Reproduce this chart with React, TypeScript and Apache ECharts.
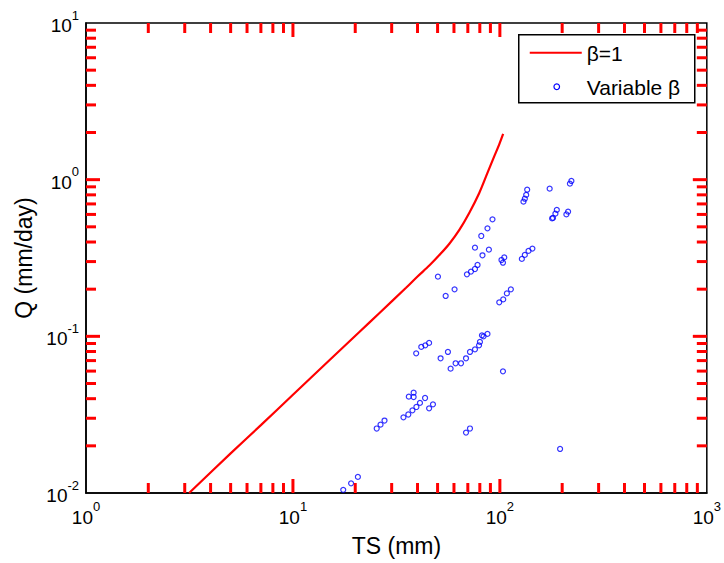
import React, { useEffect, useRef } from "react";
import * as echarts from "echarts";

// ---- data ----
const lineName = "β=1";
const scatterName = "Variable β";
const xTitle = "TS (mm)";
const yTitle = "Q (mm/day)";

const lineTS = [3.15, 5, 7, 10, 15, 21, 26.2, 35.2, 40, 45.6, 51, 57, 63.7, 71.1, 79.5, 87.1, 93.9, 99.2, 103.7];
const lineQ = [0.01, 0.0179, 0.0271, 0.0424, 0.0703, 0.107, 0.141, 0.204, 0.241, 0.283, 0.33, 0.39, 0.478, 0.613, 0.822, 1.104, 1.408, 1.673, 1.957];

const scatterTS = [
  135.5, 134, 132, 130, 174, 221.6, 218, 188.4, 185.5, 180.6, 178.8, 213.6, 209.6,
  92.1, 87.1, 81.3, 75.8, 88.5, 82.4, 105, 101.8, 103.5, 143.6, 137.5, 132, 127.7,
  78, 75.8, 72.5, 69.3, 50.2, 60.4, 54.7, 113, 108.1, 103.8, 99.3,
  39.4, 41.7, 43.6, 45.5, 51.7, 56.1, 57.8, 61.1, 64.9, 68.6, 71.7, 75.8, 79.3, 80.1,
  81.9, 83.4, 87.1, 103.5, 38.3, 36.3, 38.3, 43.5, 41.1, 39.5, 37.8, 36.1, 34.2,
  47.5, 45.5, 27.7, 26.5, 25.4, 71.7, 68.6, 195.4, 20.6, 19.1, 17.5,
];
const scatterQ = [
  0.863, 0.799, 0.756, 0.724, 0.876, 0.981, 0.943, 0.641, 0.607, 0.57, 0.566, 0.625, 0.6,
  0.558, 0.489, 0.437, 0.368, 0.3575, 0.329, 0.319, 0.307, 0.295, 0.363, 0.351, 0.331, 0.312,
  0.2855, 0.269, 0.259, 0.2487, 0.2404, 0.1995, 0.181, 0.1995, 0.188, 0.172, 0.1648,
  0.0779, 0.0856, 0.0876, 0.0908, 0.0724, 0.0795, 0.0622, 0.0673, 0.0673, 0.0724, 0.0795, 0.0826, 0.0876, 0.0921,
  0.1015, 0.1, 0.1036, 0.0598, 0.0437, 0.0412, 0.041, 0.0404, 0.0376, 0.0354, 0.0337, 0.0317, 0.0304,
  0.0368, 0.0347, 0.029, 0.0273, 0.0258, 0.0258, 0.0243, 0.0191, 0.01267, 0.01153, 0.01048,
];

const xRange = [1, 1000];
const yRange = [0.01, 10];
const xMajorTicks = [10, 100];
const xMinorTicks = [2, 3, 4, 5, 6, 7, 8, 9, 20, 30, 40, 50, 60, 70, 80, 90, 200, 300, 400, 500, 600, 700, 800, 900];
const yMajorTicks = [0.1, 1];
const yMinorTicks = [
  0.02, 0.03, 0.04, 0.05, 0.06, 0.07, 0.08, 0.09,
  0.2, 0.3, 0.4, 0.5, 0.6, 0.7, 0.8, 0.9,
  2, 3, 4, 5, 6, 7, 8, 9,
];

const FONT = "'Liberation Sans', Arial, Helvetica, sans-serif";
const MAJOR_LEN = 14;
const MINOR_LEN = 10;
const TICK_W = 3;
const TICK_C = "#ff0000";

const expLabel = (v: number) => {
  const e = Math.round(Math.log10(v));
  return `{b|10}{s|${e}}`;
};

const richStyle = {
  b: { fontSize: 19, lineHeight: 34, fontFamily: FONT, color: "#000", verticalAlign: "middle" },
  s: { fontSize: 13, lineHeight: 13, fontFamily: FONT, color: "#000", verticalAlign: "top" },
};

function xTickSeries(values: number[], len: number) {
  return {
    type: "custom",
    clip: false,
    z: 10,
    data: values.map((v) => [v, 1]),
    renderItem: (params: any, api: any) => {
      const p = api.coord([api.value(0), api.value(1)]);
      const cs = params.coordSys;
      const bottom = cs.y + cs.height;
      const top = cs.y;
      return {
        type: "group",
        children: [
          { type: "line", shape: { x1: p[0], y1: bottom, x2: p[0], y2: bottom - len }, style: { stroke: TICK_C, lineWidth: TICK_W } },
          { type: "line", shape: { x1: p[0], y1: top, x2: p[0], y2: top + len }, style: { stroke: TICK_C, lineWidth: TICK_W } },
        ],
      };
    },
  };
}

function yTickSeries(values: number[], len: number) {
  return {
    type: "custom",
    clip: false,
    z: 10,
    data: values.map((v) => [10, v]),
    renderItem: (params: any, api: any) => {
      const p = api.coord([api.value(0), api.value(1)]);
      const cs = params.coordSys;
      const left = cs.x;
      const right = cs.x + cs.width;
      return {
        type: "group",
        children: [
          { type: "line", shape: { x1: left, y1: p[1], x2: left + len, y2: p[1] }, style: { stroke: TICK_C, lineWidth: TICK_W } },
          { type: "line", shape: { x1: right, y1: p[1], x2: right - len, y2: p[1] }, style: { stroke: TICK_C, lineWidth: TICK_W } },
        ],
      };
    },
  };
}

export default function App() {
  const ref = useRef<HTMLDivElement>(null);

  useEffect(() => {
    if (!ref.current) return;
    const chart = echarts.init(ref.current, undefined, { renderer: "svg" });

    const option: any = {
      animation: false,
      grid: { left: 86, right: 16, top: 23, bottom: 70, show: true, borderColor: "#000", borderWidth: 1.5 },
      xAxis: {
        type: "log",
        min: xRange[0],
        max: xRange[1],
        axisLine: { show: true, onZero: false, lineStyle: { color: "#000", width: 1.5 } },
        splitLine: { show: false },
        axisTick: { show: false },
        minorTick: { show: false },
        axisLabel: { show: true, formatter: expLabel, margin: 7, rich: richStyle },
        name: xTitle,
        nameLocation: "middle",
        nameGap: 41,
        nameTextStyle: { fontSize: 23, color: "#000", fontFamily: FONT },
      },
      yAxis: {
        type: "log",
        min: yRange[0],
        max: yRange[1],
        axisLine: { show: true, onZero: false, lineStyle: { color: "#000", width: 1.5 } },
        splitLine: { show: false },
        axisTick: { show: false },
        minorTick: { show: false },
        axisLabel: { show: true, formatter: expLabel, margin: 7, padding: [5, 0, 0, 0], rich: richStyle },
        name: yTitle,
        nameLocation: "middle",
        nameGap: 51,
        nameTextStyle: { fontSize: 23, color: "#000", fontFamily: FONT },
      },
      graphic: [
        {
          type: "group",
          left: 518,
          top: 34,
          z: 100,
          children: [
            { type: "rect", shape: { x: 0, y: 0, width: 176, height: 68 }, style: { fill: "#fff", stroke: "#000", lineWidth: 1.5 } },
            { type: "line", shape: { x1: 11, y1: 18, x2: 63, y2: 18 }, style: { stroke: "#ff0000", lineWidth: 2.2 } },
            { type: "text", x: 68, y: 19, style: { text: lineName, fontSize: 21, fontFamily: FONT, fill: "#000", verticalAlign: "middle" } },
            { type: "circle", shape: { cx: 38, cy: 52, r: 2.8 }, style: { fill: "none", stroke: "#0000ff", lineWidth: 1.2 } },
            { type: "text", x: 68, y: 53, style: { text: scatterName, fontSize: 21, fontFamily: FONT, fill: "#000", verticalAlign: "middle" } },
          ],
        },
      ],
      series: [
        {
          name: lineName,
          type: "line",
          data: lineTS.map((x, i) => [x, lineQ[i]]),
          showSymbol: false,
          symbol: "none",
          smooth: 0.3,
          lineStyle: { color: "#ff0000", width: 2.2 },
          z: 2,
        },
        {
          name: scatterName,
          type: "scatter",
          data: scatterTS.map((x, i) => [x, scatterQ[i]]),
          symbol: "circle",
          symbolSize: 5,
          itemStyle: { color: "transparent", borderColor: "#0000ff", borderWidth: 1.2 },
          z: 2,
        },
        xTickSeries(xMajorTicks, MAJOR_LEN),
        xTickSeries(xMinorTicks, MINOR_LEN),
        yTickSeries(yMajorTicks, MAJOR_LEN),
        yTickSeries(yMinorTicks, MINOR_LEN),
      ],
    };

    chart.setOption(option);
    return () => chart.dispose();
  }, []);

  return (
    <div
      ref={ref}
      style={{ position: "fixed", left: 0, top: 0, width: 724, height: 563, background: "#fff" }}
    />
  );
}
